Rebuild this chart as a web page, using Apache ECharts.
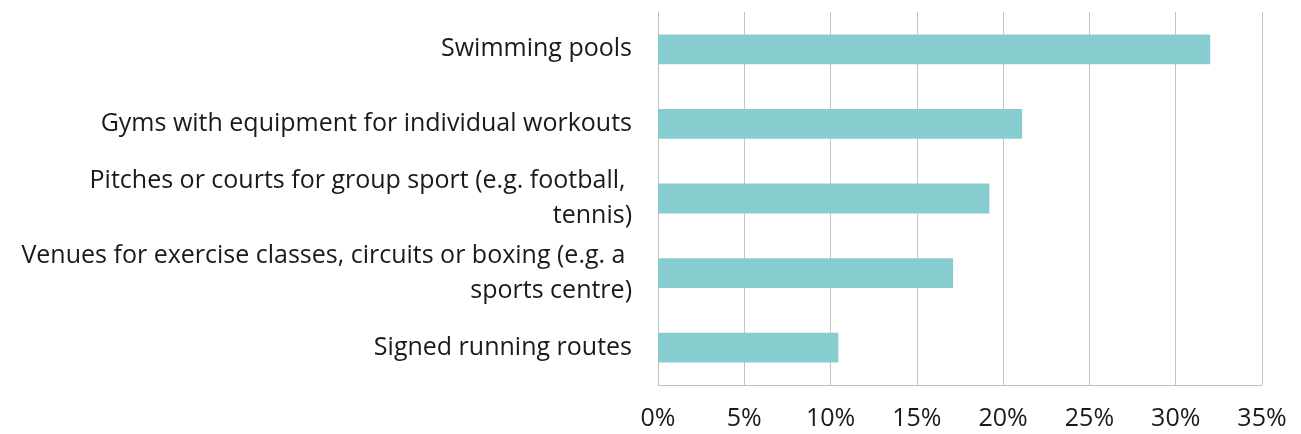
<!DOCTYPE html>
<html>
<head>
<meta charset="utf-8">
<script src="https://cdn.jsdelivr.net/npm/echarts@6/dist/echarts.min.js"></script>
<style>
  html, body { margin: 0; padding: 0; background: #fff; }
  #chart { width: 1301px; height: 434px; }
</style>
</head>
<body>
<div id="chart"></div>
<script>
  // categories, top to bottom as shown
  const categories = [
    'Swimming pools',
    'Gyms with equipment for individual workouts',
    'Pitches or courts for group sport (e.g. football, tennis)',
    'Venues for exercise classes, circuits or boxing (e.g. a sports centre)',
    'Signed running routes',
  ];
  const shares = [32.0, 21.1, 19.2, 17.1, 10.45]; // percent
  const xTicks = [0, 5, 10, 15, 20, 25, 30, 35];

  const chart = echarts.init(document.getElementById('chart'));
  const option = {
    animation: false,
    grid: {
      left: 658, // axis line
      right: 39,
      top: 12,
      bottom: 49,
    },
    xAxis: {
      type: 'value',
      min: xTicks[0],
      max: xTicks[xTicks.length - 1],
      interval: 5,
      axisLine: { show: true, lineStyle: { color: '#bfbfbf', width: 1 } },
      axisTick: { show: false },
      splitLine: { show: true, lineStyle: { color: '#c4c4c4', width: 1 } },
      axisLabel: {
        formatter: '{value}%',
        color: '#1a1a1a',
        fontFamily: 'Open Sans',
        fontSize: 25,
        margin: 21,
      },
    },
    yAxis: {
      type: 'category',
      inverse: true,
      data: categories,
      axisLine: { show: true, lineStyle: { color: '#bfbfbf', width: 1 } },
      axisTick: { show: false },
      axisLabel: {
        color: '#1a1a1a',
        fontFamily: 'Open Sans',
        fontSize: 25,
        lineHeight: 35,
        margin: 26,
        width: 613,
        overflow: 'break',
        align: 'right',
      },
    },
    series: [
      {
        type: 'bar',
        data: shares,
        barCategoryGap: '60%',
        itemStyle: { color: '#87cdd0' },
      },
    ],
  };
  chart.setOption(option);
</script>
</body>
</html>
